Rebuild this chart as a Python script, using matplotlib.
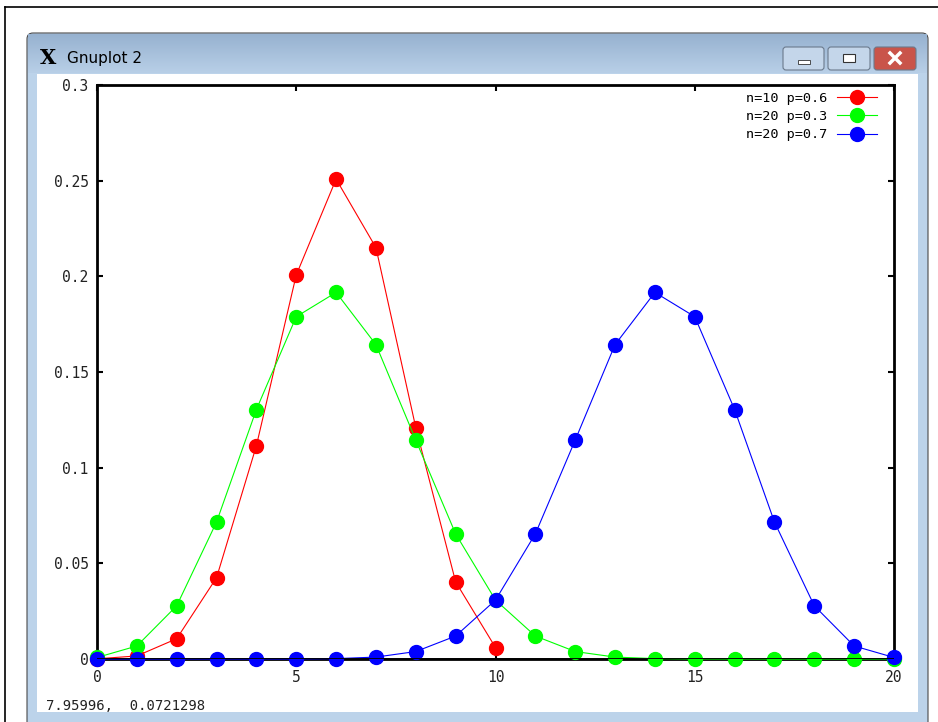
import numpy as np
import matplotlib.pyplot as plt
from matplotlib.patches import Rectangle, FancyBboxPatch

# binomial probabilities for each (n, p) pair
k10 = list(range(11))
p_n10_p06 = [0.0001, 0.0016, 0.0106, 0.0425, 0.1115, 0.2007, 0.2508, 0.2150,
             0.1209, 0.0403, 0.0060]

k20 = list(range(21))
p_n20_p03 = [0.0008, 0.0068, 0.0278, 0.0716, 0.1304, 0.1789, 0.1916, 0.1643,
             0.1144, 0.0654, 0.0308, 0.0120, 0.0039, 0.0010, 0.0002, 0.0000,
             0.0000, 0.0000, 0.0000, 0.0000, 0.0000]
p_n20_p07 = [0.0000, 0.0000, 0.0000, 0.0000, 0.0000, 0.0000, 0.0002, 0.0010,
             0.0039, 0.0120, 0.0308, 0.0654, 0.1144, 0.1643, 0.1916, 0.1789,
             0.1304, 0.0716, 0.0278, 0.0068, 0.0008]

labels = ['n=10 p=0.6', 'n=20 p=0.3', 'n=20 p=0.7']
colors = ['#ff0000', '#00ff00', '#0000ff']

xticks = [0, 5, 10, 15, 20]
yticks = [0, 0.05, 0.1, 0.15, 0.2, 0.25, 0.3]
ytick_labels = ['0', '0.05', '0.1', '0.15', '0.2', '0.25', '0.3']

W, H = 938, 722
fig = plt.figure(figsize=(W / 100, H / 100), dpi=100)

# window decoration drawn in pixel coordinates
bg = fig.add_axes([0, 0, 1, 1], zorder=0)
bg.set_xlim(0, W)
bg.set_ylim(H, 0)
bg.axis('off')

bg.plot([5, W], [7, 7], color='black', lw=1.2)
bg.plot([5, 5], [7, H], color='black', lw=1.2)

bg.add_patch(FancyBboxPatch((27, 33), 901, 700, boxstyle='round,pad=0,rounding_size=6',
                            facecolor='#bcd3ea', edgecolor='#4a4a4a', lw=0.8))
grad = np.linspace(0, 1, 50)[:, None]
title_cmap = plt.matplotlib.colors.LinearSegmentedColormap.from_list(
    'tb', ['#97b2d0', '#b8cfe7'])
bg.imshow(grad, extent=[28, 927, 73, 34], aspect='auto', cmap=title_cmap, zorder=1)
bg.add_patch(Rectangle((37, 74), 881, 638, facecolor='white', edgecolor='none', zorder=2))

bg.text(40, 58, 'X', fontsize=15, fontweight='bold', ha='left', va='center',
        color='black', zorder=3, family='DejaVu Serif')
bg.text(67, 58, 'Gnuplot 2', fontsize=11, ha='left', va='center', color='black', zorder=3)

# caption buttons
for x0, x1, face in [(783, 824, '#c4d6ea'), (828, 870, '#c4d6ea'), (874, 916, '#c9544a')]:
    bg.add_patch(FancyBboxPatch((x0, 47), x1 - x0, 23,
                                boxstyle='round,pad=0,rounding_size=3',
                                facecolor=face, edgecolor='#6b7a8c', lw=0.8, zorder=3))
bg.add_patch(Rectangle((798, 60), 12, 4, facecolor='white', edgecolor='#333333', lw=0.6, zorder=4))
bg.add_patch(Rectangle((843, 54), 12, 8, facecolor='white', edgecolor='#333333', lw=0.8, zorder=4))
bg.plot([890, 900], [53, 63], color='white', lw=2.5, zorder=4)
bg.plot([890, 900], [63, 53], color='white', lw=2.5, zorder=4)

bg.text(46, 706, '7.95996,  0.0721298', fontsize=10, family='DejaVu Sans Mono',
        ha='left', va='center', color='#222222', zorder=3)

# plot area
left, right, top, bottom = 97, 894, 85, 659
ax = fig.add_axes([left / W, 1 - bottom / H, (right - left) / W, (bottom - top) / H], zorder=5)
ax.patch.set_alpha(0)

series = [(k10, p_n10_p06), (k20, p_n20_p03), (k20, p_n20_p07)]
for (x, y), lab, c in zip(series, labels, colors):
    ax.plot(x, y, color=c, lw=0.8, marker='o', ms=10, mec=c, mfc=c,
            label=lab, clip_on=False, zorder=3)

ax.axhline(0, color='black', lw=2, zorder=4)

ax.set_xlim(0, 20)
ax.set_ylim(0, 0.3)
ax.set_xticks(xticks)
ax.set_yticks(yticks)
ax.set_xticklabels([str(v) for v in xticks])
ax.set_yticklabels(ytick_labels)
ax.tick_params(direction='in', top=True, right=True, length=4.5, width=1.5,
               labelsize=10.5, colors='black')
ax.tick_params(axis='x', pad=8)
ax.tick_params(axis='y', pad=6)
for lab in ax.get_xticklabels() + ax.get_yticklabels():
    lab.set_family('DejaVu Sans Mono')
    lab.set_color('#222222')
for s in ax.spines.values():
    s.set_linewidth(2)

leg = ax.legend(loc='upper right', frameon=False, markerfirst=False,
                bbox_to_anchor=(1 - 17 / (right - left), 1 - 7 / (bottom - top)),
                prop={'family': 'DejaVu Sans Mono', 'size': 9.7},
                handlelength=2.95, handletextpad=0.75, labelspacing=0.38,
                borderaxespad=0, borderpad=0)
for t in leg.get_texts():
    t.set_ha('right')

fig.savefig('out.png', dpi=100)
